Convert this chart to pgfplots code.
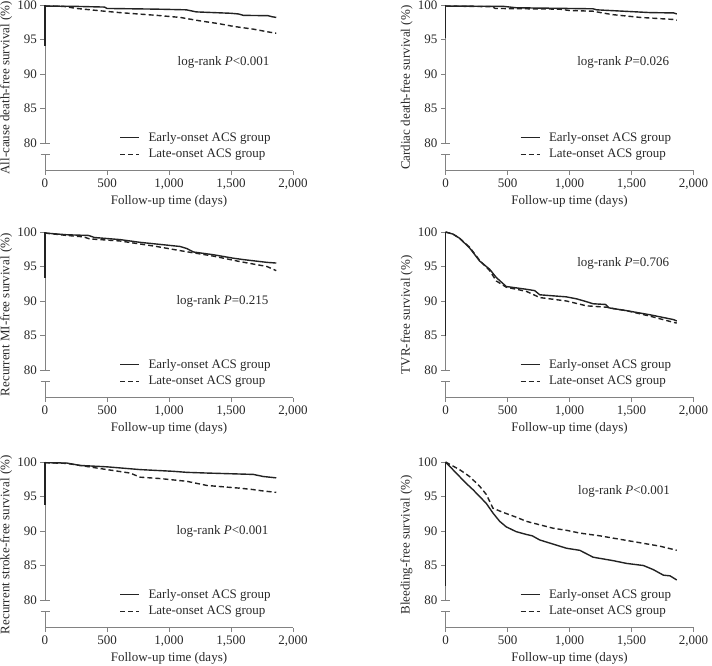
\documentclass[border=0pt]{standalone}
\usepackage{fontspec}
\setmainfont{Liberation Serif}
\usepackage{pgfplots}
\pgfplotsset{compat=1.18}
\definecolor{axisgray}{RGB}{130,130,130}
\definecolor{kmcurve}{RGB}{35,35,35}
\definecolor{txt}{RGB}{40,40,40}
\newcommand{\fs}{\fontsize{13}{15}\selectfont}
\pgfplotsset{
 km/.style={
  scale only axis, width=248pt, height=165.6pt,
  xmin=0,xmax=2000,ymin=76,ymax=100,
  clip=false,
  axis x line*=bottom, axis y line*=left,
  y axis line style={draw=none},
  x axis line style={draw=axisgray, line width=0.8pt},
  xtick={0,500,1000,1500,2000},
  xticklabels={0,500,{1,000},{1,500},{2,000}},
  ytick={80,85,90,95,100},
  tick align=outside,
  major tick length=4.5pt,
  every tick/.style={axisgray, line width=0.8pt},
  tick label style={font=\fs, text=txt},
  /pgf/number format/assume math mode=true,
  label style={font=\fs, text=txt},
  xlabel={Follow-up time (days)},
  xlabel style={at={(axis description cs:0.5,-0.187)}, anchor=center},
  ylabel style={at={(axis description cs:-0.157,0.5)}, anchor=center},
  legend style={at={(axis description cs:0.3,0.149)}, anchor=west, draw=none, fill=none, font=\fs, text=txt, inner sep=0pt, row sep=6pt,
    nodes={inner sep=0pt}, column sep=9pt},
  legend cell align=left,
  legend image code/.code={\draw[##1, line width=0.9pt] (0pt,0pt) -- (19pt,0pt);},
 },
 solk/.style={kmcurve, line width=1.4pt, solid, no markers},
 dshk/.style={kmcurve, line width=1.4pt, dash pattern=on 5pt off 3pt, no markers},
}
\newcommand{\axdecor}[1]{%
  \draw[axisgray, line width=0.8pt] (axis cs:0,100) -- (axis cs:0,80);
  \draw[axisgray, line width=0.8pt] (axis cs:0,78.4) -- (axis cs:0,76);
  \draw[axisgray, line width=0.8pt] (axis cs:0,80) -- ([xshift=4.5pt]axis cs:0,80);
  \draw[axisgray, line width=0.8pt] ([xshift=-4.5pt]axis cs:0,78.4) -- ([xshift=4.5pt]axis cs:0,78.4);
  \draw[kmcurve, line width=1.3pt] (axis cs:0,100) -- (axis cs:0,#1);
}
\begin{document}
\begin{tikzpicture}
\useasboundingbox (0,0) rectangle (712pt,665pt);
% Panel 1
\begin{axis}[km, at={(45pt,494.4pt)}, anchor=south west, ylabel={All-cause death-free survival (\%)}]
\axdecor{94}
\addplot[solk] coordinates {(0,99.85)(250,99.8)(480,99.7)(500,99.5)(900,99.4)(1140,99.3)(1220,99.0)(1500,98.8)(1560,98.7)(1600,98.5)(1800,98.45)(1830,98.3)(1865,98.2)};
\addlegendentry{Early-onset ACS group}
\addplot[dshk] coordinates {(0,99.85)(150,99.8)(255,99.5)(480,99.1)(600,98.9)(900,98.5)(1090,98.2)(1250,97.7)(1400,97.3)(1520,96.9)(1680,96.5)(1800,96.1)(1865,95.9)};
\addlegendentry{Late-onset ACS group}
\node[font=\fs, text=txt] at (axis cs:1440,91.7) {log-rank \textit{P}<0.001};
\end{axis}
% Panel 2
\begin{axis}[km, at={(445.5pt,494.4pt)}, anchor=south west, ylabel={Cardiac death-free survival (\%)}]
\axdecor{95.2}
\addplot[solk] coordinates {(0,99.85)(470,99.8)(570,99.6)(1190,99.45)(1220,99.3)(1435,99.1)(1650,98.9)(1840,98.85)(1865,98.7)};
\addlegendentry{Early-onset ACS group}
\addplot[dshk] coordinates {(0,99.85)(380,99.75)(400,99.5)(920,99.4)(1000,99.2)(1190,99.1)(1250,98.9)(1350,98.6)(1570,98.2)(1840,97.9)(1865,97.8)};
\addlegendentry{Late-onset ACS group}
\node[font=\fs, text=txt] at (axis cs:1433,91.7) {log-rank \textit{P}=0.026};
\end{axis}
% Panel 3
\begin{axis}[km, at={(45pt,267.4pt)}, anchor=south west, ylabel={Recurrent MI-free survival (\%)}]
\axdecor{93.4}
\addplot[solk] coordinates {(0,99.85)(175,99.6)(350,99.5)(400,99.2)(605,98.9)(767,98.5)(983,98.1)(1090,97.9)(1144,97.6)(1198,97.1)(1360,96.7)(1520,96.2)(1600,96.0)(1790,95.6)(1865,95.5)};
\addlegendentry{Early-onset ACS group}
\addplot[dshk] coordinates {(0,99.85)(175,99.5)(310,99.3)(360,99.0)(605,98.7)(900,97.9)(1090,97.3)(1360,96.5)(1575,95.7)(1790,95.0)(1865,94.4)};
\addlegendentry{Late-onset ACS group}
\node[font=\fs, text=txt] at (axis cs:1431,89.9) {log-rank \textit{P}=0.215};
\end{axis}
% Panel 4
\begin{axis}[km, at={(445.5pt,267.4pt)}, anchor=south west, ylabel={TVR-free survival (\%)}]
\axdecor{85}
\addplot[solk] coordinates {(0,100)(60,99.7)(113,99.1)(194,97.7)(275,95.8)(356,94.6)(410,93.4)(490,92.1)(652,91.7)(720,91.5)(760,90.9)(975,90.6)(1060,90.3)(1137,89.9)(1190,89.6)(1290,89.5)(1320,89.0)(1460,88.6)(1650,88.0)(1840,87.3)(1865,87.1)};
\addlegendentry{Early-onset ACS group}
\addplot[dshk] coordinates {(0,100)(60,99.7)(113,99.1)(194,97.8)(275,95.9)(356,94.4)(410,92.9)(490,92.0)(652,91.4)(760,90.5)(975,90.0)(1137,89.3)(1300,89.1)(1353,88.9)(1460,88.6)(1650,87.8)(1840,86.9)(1865,86.8)};
\addlegendentry{Late-onset ACS group}
\node[font=\fs, text=txt] at (axis cs:1433,95.5) {log-rank \textit{P}=0.706};
\end{axis}
% Panel 5
\begin{axis}[km, at={(45pt,37.4pt)}, anchor=south west, ylabel={Recurrent stroke-free survival (\%)}]
\axdecor{93.8}
\addplot[solk] coordinates {(0,99.9)(175,99.85)(283,99.5)(500,99.3)(767,98.9)(1036,98.65)(1144,98.5)(1306,98.4)(1680,98.2)(1760,97.9)(1865,97.7)};
\addlegendentry{Early-onset ACS group}
\addplot[dshk] coordinates {(0,99.9)(175,99.8)(283,99.5)(500,98.9)(686,98.4)(767,97.8)(929,97.6)(1144,97.2)(1306,96.6)(1575,96.2)(1680,96.0)(1760,95.8)(1865,95.6)};
\addlegendentry{Late-onset ACS group}
\node[font=\fs, text=txt] at (axis cs:1431,90.0) {log-rank \textit{P}<0.001};
\end{axis}
% Panel 6
\begin{axis}[km, at={(445.5pt,37.4pt)}, anchor=south west, ylabel={Bleeding-free survival (\%)}]
\axdecor{82}
\addplot[solk] coordinates {(0,100)(113,97.9)(167,96.9)(221,96.0)(275,95.0)(329,94.0)(383,92.6)(437,91.4)(490,90.6)(571,89.9)(652,89.5)(700,89.3)(760,88.7)(868,88.1)(976,87.5)(1083,87.2)(1191,86.2)(1353,85.7)(1461,85.3)(1596,85.0)(1676,84.4)(1757,83.6)(1811,83.5)(1865,82.9)};
\addlegendentry{Early-onset ACS group}
\addplot[dshk] coordinates {(0,100)(113,98.9)(194,97.9)(275,96.5)(329,95.3)(383,93.3)(464,92.7)(571,92.0)(652,91.4)(760,90.9)(868,90.4)(976,90.1)(1083,89.7)(1245,89.3)(1407,88.8)(1569,88.3)(1730,87.8)(1865,87.2)};
\addlegendentry{Late-onset ACS group}
\node[font=\fs, text=txt] at (axis cs:1440,95.7) {log-rank \textit{P}<0.001};
\end{axis}
\end{tikzpicture}
\end{document}
